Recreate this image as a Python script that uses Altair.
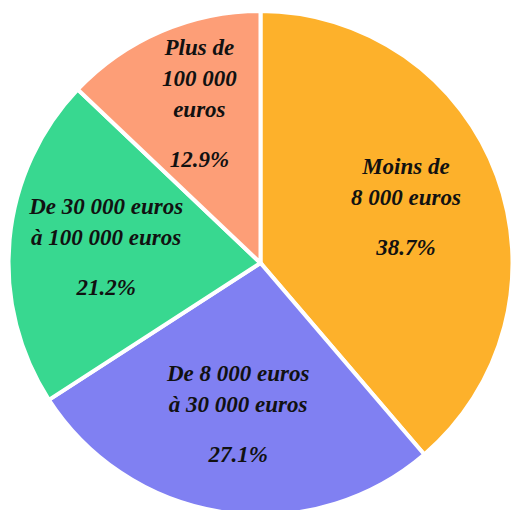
import altair as alt
import pandas as pd

categories = ["Moins de 8 000 euros", "De 8 000 euros à 30 000 euros",
              "De 30 000 euros à 100 000 euros", "Plus de 100 000 euros"]
names = ["\nMoins de\n8 000 euros", "\nDe 8 000 euros\nà 30 000 euros",
         "\nDe 30 000 euros\nà 100 000 euros", "Plus de\n100 000\neuros"]
values = [38.7, 27.1, 21.2, 12.9]
pct_labels = ["38.7%", "27.1%", "21.2%", "12.9%"]
order = [1, 2, 3, 4]
colors = ["#FDB12B", "#8080F2", "#38D890", "#FD9E77"]

df = pd.DataFrame({"category": categories, "name": names, "value": values,
                   "pct": pct_labels, "order": order})

base = alt.Chart(df).encode(
    theta=alt.Theta("value:Q", stack=True),
    order=alt.Order("order:Q"),
)

pie = base.mark_arc(outerRadius=252, stroke="white", strokeWidth=4).encode(
    color=alt.Color("category:N", scale=alt.Scale(domain=categories, range=colors), legend=None)
)

font = dict(font="Liberation Serif", fontStyle="italic", fontWeight="bold",
            fontSize=23, color="#111111")

name_text = base.mark_text(radius=155, baseline="middle", dy=-73, lineBreak="\n",
                           lineHeight=31, **font).encode(text="name:N")
pct_text = base.mark_text(radius=155, baseline="middle", dy=39, **font).encode(text="pct:N")

chart = (pie + name_text + pct_text).properties(
    width=511, height=510,
    padding={"left": 10, "top": 16, "right": 0, "bottom": 0},
    autosize=alt.AutoSizeParams(type="fit", contains="padding"),
).configure_view(stroke=None)

chart.save("out.html", embed_options={"renderer": "svg", "actions": False})
